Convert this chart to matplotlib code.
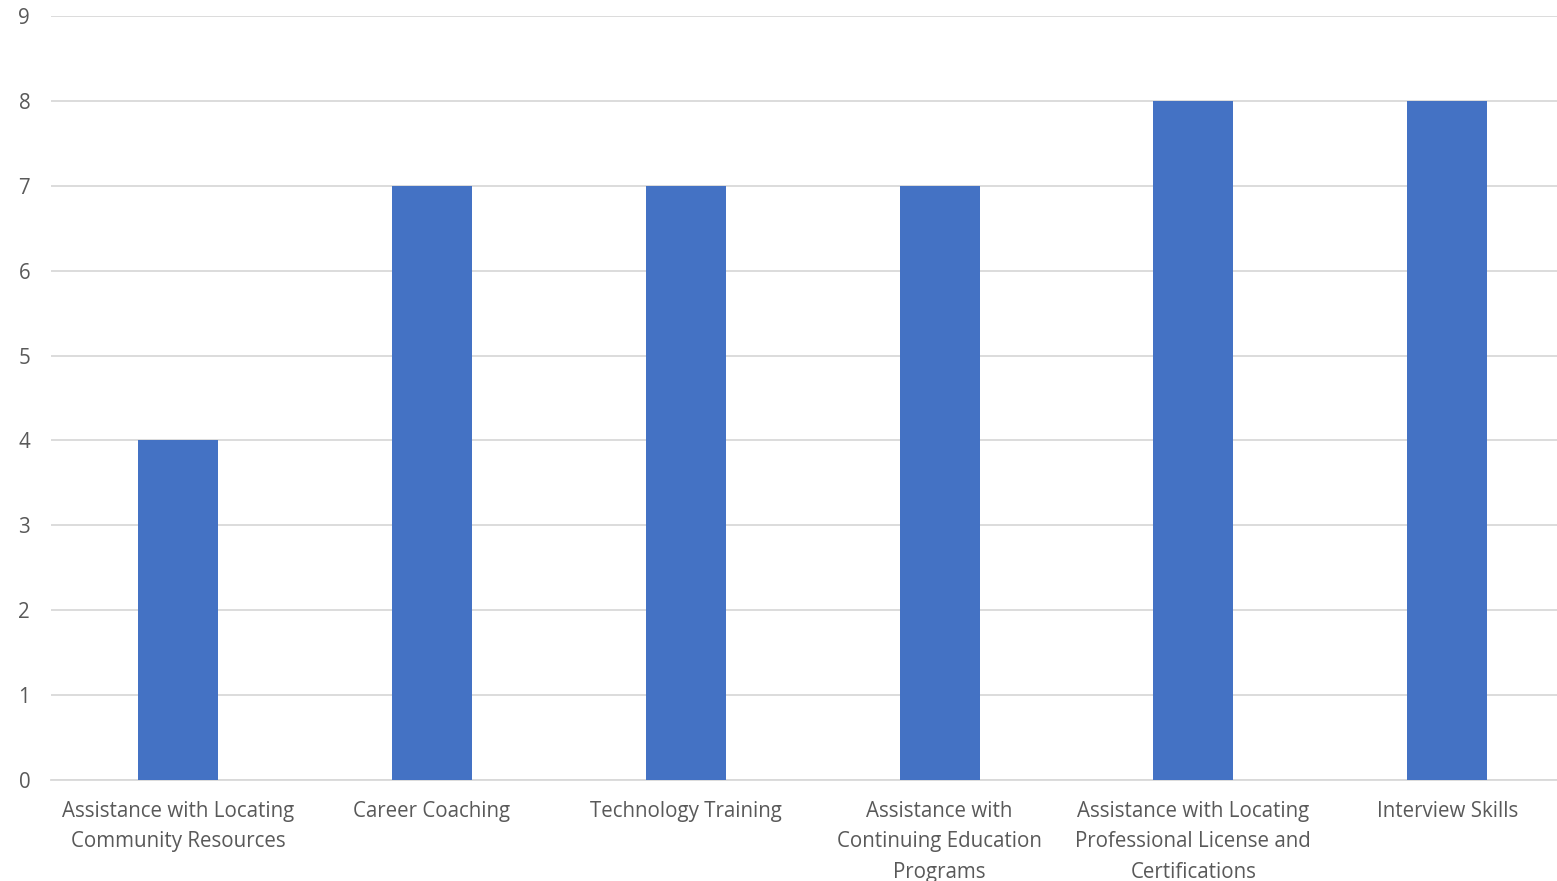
import matplotlib.pyplot as plt

categories = [
    "Assistance with Locating\nCommunity Resources",
    "Career Coaching",
    "Technology Training",
    "Assistance with\nContinuing Education\nPrograms",
    "Assistance with Locating\nProfessional License and\nCertifications",
    "Interview Skills",
]
values = [4, 7, 7, 7, 8, 8]

plt.rcParams['font.family'] = ['Open Sans', 'DejaVu Sans']

fig = plt.figure(figsize=(15.57, 8.81), dpi=100)
ax = fig.add_axes([0.0328, 0.1146, 0.9782, 0.8672])

x = range(len(categories))
ax.bar(x, values, width=0.315, color='#4472C4', zorder=3)

ax.set_xlim(-0.5, len(categories) - 0.5)
ax.set_ylim(0, 9)
ax.set_yticks(range(0, 10))
ax.set_xticks(list(x))
ax.set_xticklabels(categories, linespacing=1.6)

ax.grid(axis='y', color='#D9D9D9', linewidth=1.3, zorder=0)
for s in ['top', 'right', 'left']:
    ax.spines[s].set_visible(False)
ax.spines['bottom'].set_color('#D9D9D9')
ax.spines['bottom'].set_linewidth(1.3)

ax.tick_params(axis='both', length=0, labelsize=14.8, colors='#595959')
ax.tick_params(axis='x', pad=15)
ax.tick_params(axis='y', pad=15)

fig.savefig('out.png', dpi=100)
